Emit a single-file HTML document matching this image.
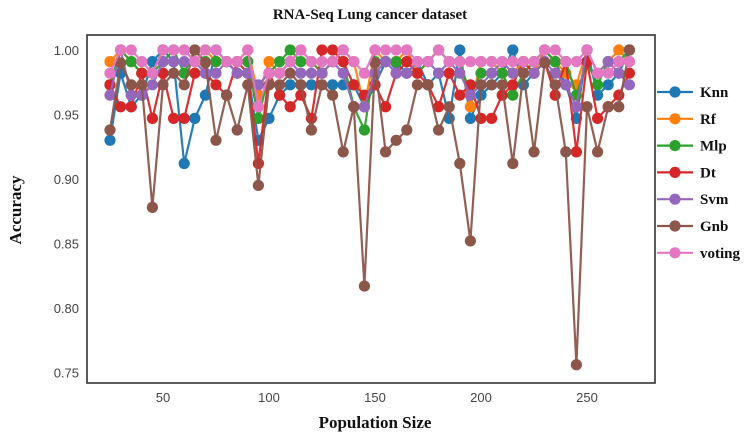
<!DOCTYPE html>
<html><head><meta charset="utf-8">
<style>
body{margin:0;background:#fff;width:752px;height:438px;overflow:hidden}
svg{display:block}
.tick{font-family:"Liberation Sans",sans-serif;font-size:13px;fill:#444}
.serif{font-family:"Liberation Serif",serif;font-weight:bold;fill:#111}
</style></head>
<body>
<svg id="chart" width="752" height="438">
<text class="serif" x="370" y="19" text-anchor="middle" font-size="15">RNA-Seq Lung cancer dataset</text>
<text class="serif" x="375" y="428" text-anchor="middle" font-size="17">Population Size</text>
<text class="serif" transform="translate(21,210) rotate(-90)" text-anchor="middle" font-size="17">Accuracy</text>
<g id="ticks"></g>
<g id="series"></g>
<rect x="87" y="35" width="568" height="348" fill="none" stroke="#333" stroke-width="1.6"/>
<g id="legend"></g>
</svg>
<script>
const xs=[25,30,35,40,45,50,55,60,65,70,75,80,85,90,95,100,105,110,115,120,125,130,135,140,145,150,155,160,165,170,175,180,185,190,195,200,205,210,215,220,225,230,235,240,245,250,255,260,265,270];
const knn=[0.93,0.982,0.956,0.965,0.991,1.0,0.991,0.912,0.947,0.965,1.0,0.991,0.982,0.982,0.93,0.947,0.965,0.973,0.973,0.973,0.973,0.973,0.973,0.973,0.956,0.973,0.991,0.99,0.982,0.991,0.973,0.982,0.947,1.0,0.947,0.965,0.973,0.982,1.0,0.973,0.982,1.0,0.991,0.973,0.947,1.0,0.965,0.973,0.982,1.0];
const rf=[0.991,1.0,0.991,0.982,0.982,1.0,1.0,1.0,0.991,1.0,0.991,0.991,0.991,1.0,0.965,0.991,0.982,0.991,1.0,0.991,0.982,0.991,1.0,0.991,0.956,1.0,0.991,0.991,1.0,0.982,0.991,1.0,0.991,0.991,0.956,0.991,0.991,0.982,0.982,0.991,0.982,1.0,0.991,0.982,0.973,1.0,0.982,0.991,1.0,0.991];
const mlp=[0.973,1.0,0.991,0.982,0.982,0.991,1.0,0.982,1.0,0.991,0.991,0.991,0.991,0.991,0.947,0.982,0.991,1.0,0.991,0.991,0.982,0.991,0.991,0.956,0.938,0.991,0.991,0.991,0.991,0.982,0.991,1.0,0.991,0.991,0.965,0.982,0.982,0.982,0.965,0.982,0.991,1.0,0.991,0.991,0.965,0.991,0.973,0.991,0.991,1.0];
const dt=[0.973,0.956,0.956,0.982,0.947,0.982,0.947,0.947,0.982,0.982,0.973,0.965,0.991,0.982,0.912,0.982,0.965,0.956,0.965,0.947,1.0,1.0,0.991,0.973,0.965,0.973,0.956,0.982,0.991,0.982,0.973,0.956,0.982,0.965,0.973,0.947,0.947,0.965,0.973,0.991,0.982,0.991,0.965,0.991,0.921,0.991,0.947,0.956,0.965,0.982];
const svm=[0.965,1.0,0.965,0.965,0.973,0.991,0.991,0.991,0.991,0.982,0.982,0.991,0.982,0.982,0.973,0.982,0.982,0.991,0.982,0.982,0.982,0.991,0.982,0.956,0.956,0.982,0.991,0.982,0.982,0.991,0.991,0.982,0.991,0.982,0.965,0.973,0.982,0.991,0.982,0.982,0.982,0.991,0.982,0.973,0.956,1.0,0.982,0.991,0.982,0.973];
const gnb=[0.938,0.99,0.973,0.973,0.878,0.973,0.982,0.973,1.0,0.99,0.93,0.965,0.938,0.973,0.895,0.973,0.973,0.982,0.973,0.938,0.973,0.965,0.921,0.956,0.817,0.99,0.921,0.93,0.938,0.973,0.973,0.938,0.956,0.912,0.852,0.973,0.973,0.973,0.912,0.982,0.921,0.99,0.973,0.921,0.756,0.956,0.921,0.956,0.956,1.0];
const voting=[0.982,1.0,1.0,0.991,0.982,1.0,1.0,1.0,0.991,1.0,1.0,0.991,0.991,1.0,0.956,0.982,0.982,0.991,1.0,0.991,0.991,0.991,1.0,0.991,0.982,1.0,1.0,1.0,1.0,0.991,0.991,1.0,0.991,0.991,0.991,0.991,0.991,0.991,0.991,0.991,0.991,1.0,1.0,0.991,0.991,1.0,0.982,0.982,0.991,0.991];
const seriesNames=["Knn","Rf","Mlp","Dt","Svm","Gnb","voting"];
const seriesColors=["#1f77b4","#ff7f0e","#2ca02c","#d62728","#9467bd","#8c564b","#e377c2"];
const xTicks=[50,100,150,200,250];
const yTicks=[1.00,0.95,0.90,0.85,0.80,0.75];

const NS="http://www.w3.org/2000/svg";
function X(v){return 163+(v-50)*2.12;}
function Y(v){return 50+(1-v)*1290;}
function mk(tag,attrs,parent){const e=document.createElementNS(NS,tag);for(const k in attrs)e.setAttribute(k,attrs[k]);parent.appendChild(e);return e;}

const tg=document.getElementById('ticks');
xTicks.forEach(t=>{
  const e=mk('text',{x:X(t),y:402,'text-anchor':'middle','class':'tick'},tg);
  e.textContent=t;
  
  
});
yTicks.forEach(t=>{
  const e=mk('text',{x:79,y:Y(t)+5,'text-anchor':'end','class':'tick'},tg);
  e.textContent=t.toFixed(2);
  
  
});

const all=[knn,rf,mlp,dt,svm,gnb,voting];
const sg=document.getElementById('series');
all.forEach((vals,si)=>{
  const g=mk('g',{},sg);
  
  
  const pts=vals.map((v,i)=>X(xs[i])+','+Y(v)).join(' ');
  const pl=mk('polyline',{points:pts,fill:'none',stroke:seriesColors[si],'stroke-width':2.2,opacity:0.95},g);
  
  
  vals.forEach((v,i)=>{
    const c=mk('circle',{cx:X(xs[i]),cy:Y(v),r:5.6,fill:seriesColors[si]},g);
    
    
  });
});

const lg=document.getElementById('legend');
seriesNames.forEach((n,i)=>{
  const y=92+i*26.8;
  const g=mk('g',{},lg);
  
  
  mk('line',{x1:657,y1:y,x2:693,y2:y,stroke:seriesColors[i],'stroke-width':2.2},g);
  mk('circle',{cx:675,cy:y,r:5.6,fill:seriesColors[i]},g);
  const t=mk('text',{x:700,y:y+5,'class':'serif','font-size':15},g);
  t.textContent=n;
});
</script>
</body></html>
